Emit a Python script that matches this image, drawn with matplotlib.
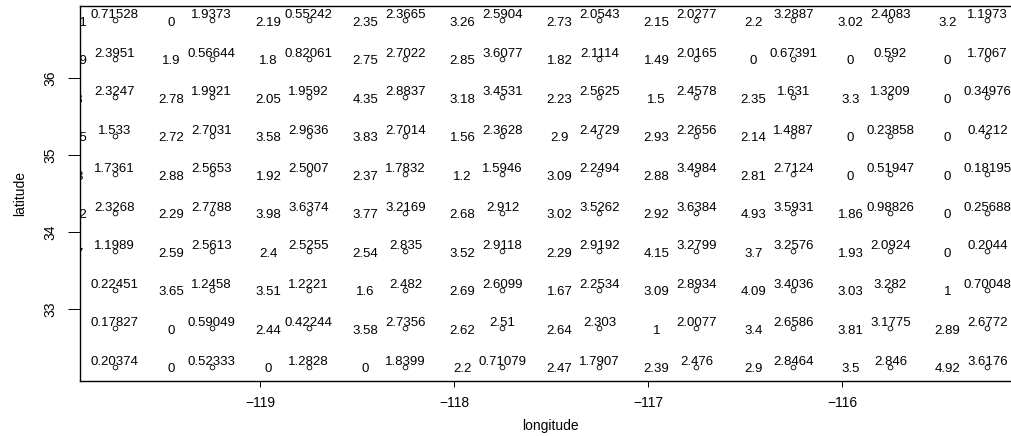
import matplotlib
matplotlib.use("Agg")
import matplotlib.pyplot as plt

plt.rcParams["font.family"] = ["Liberation Sans", "DejaVu Sans"]

# grid of cells (degrees)
longitudes = [-119.75, -119.25, -118.75, -118.25, -117.75,
              -117.25, -116.75, -116.25, -115.75, -115.25]
latitudes = [36.75, 36.25, 35.75, 35.25, 34.75,
             34.25, 33.75, 33.25, 32.75, 32.25]

# label drawn above each point, one row per latitude (top to bottom)
top_labels = [
    ["0.71528", "1.9373", "0.55242", "2.3665", "2.5904", "2.0543", "2.0277", "3.2887", "2.4083", "1.1973"],
    ["2.3951", "0.56644", "0.82061", "2.7022", "3.6077", "2.1114", "2.0165", "0.67391", "0.592", "1.7067"],
    ["2.3247", "1.9921", "1.9592", "2.8837", "3.4531", "2.5625", "2.4578", "1.631", "1.3209", "0.34976"],
    ["1.533", "2.7031", "2.9636", "2.7014", "2.3628", "2.4729", "2.2656", "1.4887", "0.23858", "0.4212"],
    ["1.7361", "2.5653", "2.5007", "1.7832", "1.5946", "2.2494", "3.4984", "2.7124", "0.51947", "0.18195"],
    ["2.3268", "2.7788", "3.6374", "3.2169", "2.912", "3.5262", "3.6384", "3.5931", "0.98826", "0.25688"],
    ["1.1989", "2.5613", "2.5255", "2.835", "2.9118", "2.9192", "3.2799", "3.2576", "2.0924", "0.2044"],
    ["0.22451", "1.2458", "1.2221", "2.482", "2.6099", "2.2534", "2.8934", "3.4036", "3.282", "0.70048"],
    ["0.17827", "0.59049", "0.42244", "2.7356", "2.51", "2.303", "2.0077", "2.6586", "3.1775", "2.6772"],
    ["0.20374", "0.52333", "1.2828", "1.8399", "0.71079", "1.7907", "2.476", "2.8464", "2.846", "3.6176"],
]

# label drawn left of each point
left_labels = [
    ["2.31", "0", "2.19", "2.35", "3.26", "2.73", "2.15", "2.2", "3.02", "3.2"],
    ["1.99", "1.9", "1.8", "2.75", "2.85", "1.82", "1.49", "0", "0", "0"],
    ["1.8", "2.78", "2.05", "4.35", "3.18", "2.23", "1.5", "2.35", "3.3", "0"],
    ["2.65", "2.72", "3.58", "3.83", "1.56", "2.9", "2.93", "2.14", "0", "0"],
    ["2.3", "2.88", "1.92", "2.37", "1.2", "3.09", "2.88", "2.81", "0", "0"],
    ["2.22", "2.29", "3.98", "3.77", "2.68", "3.02", "2.92", "4.93", "1.86", "0"],
    ["2.7", "2.59", "2.4", "2.54", "3.52", "2.29", "4.15", "3.7", "1.93", "0"],
    ["0", "3.65", "3.51", "1.6", "2.69", "1.67", "3.09", "4.09", "3.03", "1"],
    ["0", "0", "2.44", "3.58", "2.62", "2.64", "1", "3.4", "3.81", "2.89"],
    ["0", "0", "0", "0", "2.2", "2.47", "2.39", "2.9", "3.5", "4.92"],
]

x_ticks = [-119, -118, -117, -116]
y_ticks = [33, 34, 35, 36]

W, H = 1011, 436
fig = plt.figure(figsize=(W / 100, H / 100), dpi=100)
ax = fig.add_axes([80 / W, (H - 381) / H, 940 / W, 375 / H])

xs = [lon for lat in latitudes for lon in longitudes]
ys = [lat for lat in latitudes for lon in longitudes]
ax.plot(xs, ys, linestyle="none", marker="o", markersize=3.4,
        markerfacecolor="none", markeredgecolor="black", markeredgewidth=0.6)

for i, lat in enumerate(latitudes):
    for j, lon in enumerate(longitudes):
        ax.text(lon, lat + 0.026, top_labels[i][j], ha="center", va="baseline",
                fontsize=9.5, clip_on=True)
        ax.text(lon - 0.206, lat - 0.07, left_labels[i][j], ha="center",
                va="baseline", fontsize=9.5, clip_on=True)

ax.set_xlim(-119.928, -115.082)
ax.set_ylim(32.065, 36.935)

ax.set_xticks(x_ticks)
ax.set_xticklabels([f"\u2212{abs(v)}" for v in x_ticks])
ax.set_yticks(y_ticks)
ax.set_yticklabels([str(v) for v in y_ticks], rotation=90, va="center")
ax.tick_params(axis="x", length=4.5, width=0.7, pad=6, labelsize=10)
ax.tick_params(axis="y", length=8.5, width=0.7, pad=8, labelsize=10)

for side in ["left", "bottom", "top", "right"]:
    ax.spines[side].set_linewidth(1.0)

ax.set_xlabel("longitude", fontsize=10)
ax.set_ylabel("latitude", fontsize=10)
ax.xaxis.set_label_coords(0.5, -0.12)
ax.yaxis.set_label_coords(-0.064, 0.5)
ax.xaxis.label.set_va("center")
ax.yaxis.label.set_va("center")

fig.savefig("out.png", dpi=100)
